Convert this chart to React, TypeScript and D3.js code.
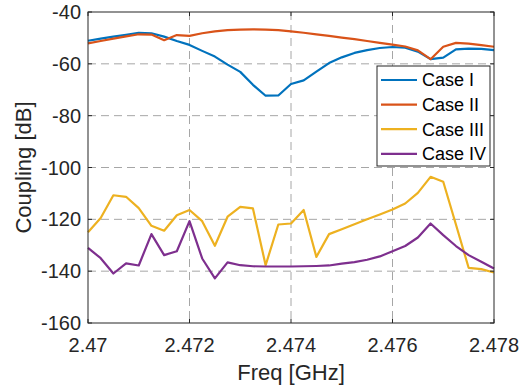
import React from "react";
import * as d3 from "d3";

const WIDTH = 528;
const HEIGHT = 390;
const M = { left: 88, right: 34, top: 12, bottom: 67 };

// frequency samples, GHz (0.25 MHz step)
const freq = d3.range(0, 33).map((i) => +(2.47 + i * 0.00025).toFixed(5));

const caseI = [
  -51.1, -50.3, -49.5, -48.8, -48.0, -48.2, -49.5, -51.2, -52.7, -55.0, -57.2,
  -60.3, -63.1, -68.1, -72.3, -72.2, -67.8, -66.4, -63.0, -59.7, -57.5, -55.8,
  -54.7, -53.9, -53.5, -53.8, -55.3, -58.2, -57.6, -54.4, -54.1, -54.2, -54.7,
];
const caseII = [
  -52.1, -51.2, -50.3, -49.4, -48.6, -48.7, -50.9, -48.9, -49.2, -48.2, -47.5,
  -47.0, -46.8, -46.7, -46.8, -47.0, -47.5, -48.0, -48.6, -49.2, -49.9, -50.5,
  -51.2, -51.9, -52.6, -53.3, -54.8, -58.2, -53.4, -51.9, -52.2, -52.8, -53.4,
];
const caseIII = [
  -125.0, -119.5, -110.7, -111.3, -115.7, -122.5, -124.4, -118.4, -116.4,
  -120.7, -130.2, -119.0, -115.2, -115.8, -137.7, -122.0, -121.6, -116.4,
  -134.5, -125.7, -123.8, -121.9, -120.0, -118.1, -116.2, -113.9, -109.8,
  -103.6, -105.5, -122.0, -138.7, -139.2, -140.5,
];
const caseIV = [
  -131.0, -135.0, -140.9, -137.0, -137.8, -125.7, -133.8, -132.3, -120.7,
  -135.1, -142.8, -136.6, -137.7, -138.1, -138.2, -138.2, -138.2, -138.1,
  -138.0, -137.8, -137.1, -136.5, -135.6, -134.3, -132.3, -130.3, -127.0,
  -121.6, -126.1, -130.3, -133.8, -136.4, -139.0,
];

const seriesNames = ["Case I", "Case II", "Case III", "Case IV"];
const seriesColors = ["#0072BD", "#D95319", "#EDB120", "#7E2F8E"];
const seriesValues = [caseI, caseII, caseIII, caseIV];

const xTicks = [2.47, 2.472, 2.474, 2.476, 2.478];
const yTicks = [-160, -140, -120, -100, -80, -60, -40];

const FONT = "Arial, 'Liberation Sans', Helvetica, sans-serif";
const AXIS = "#262626";

export default function App() {
  const x = d3
    .scaleLinear()
    .domain([2.47, 2.478])
    .range([M.left, WIDTH - M.right]);
  const y = d3
    .scaleLinear()
    .domain([-160, -40])
    .range([HEIGHT - M.bottom, M.top]);

  const line = d3
    .line<number>()
    .x((_, i) => x(freq[i]))
    .y((d) => y(d));

  const [x0, x1] = x.range();
  const [y0, y1] = y.range();

  // legend placement
  const lg = { x: 377, y: 66, w: 113, h: 100, row: 24.6 };

  return (
    <svg
      width={WIDTH}
      height={HEIGHT}
      style={{ position: "absolute", left: 0, top: 0, background: "#fff" }}
      fontFamily={FONT}
    >
      {/* grid */}
      <g stroke="#a6a6a6" strokeDasharray="8,5" strokeWidth={1}>
        {xTicks.slice(1, -1).map((t) => (
          <line key={"gx" + t} x1={x(t)} x2={x(t)} y1={y1} y2={y0} />
        ))}
        {yTicks.slice(1, -1).map((t) => (
          <line key={"gy" + t} x1={x0} x2={x1} y1={y(t)} y2={y(t)} />
        ))}
      </g>

      {/* series */}
      <g fill="none" strokeWidth={2.2} strokeLinejoin="round">
        {seriesValues.map((vals, k) => (
          <path key={k} d={line(vals) || ""} stroke={seriesColors[k]} />
        ))}
      </g>

      {/* axes box */}
      <rect
        x={x0}
        y={y1}
        width={x1 - x0}
        height={y0 - y1}
        fill="none"
        stroke={AXIS}
        strokeWidth={1}
      />
      <g stroke={AXIS} strokeWidth={1}>
        {xTicks.map((t) => (
          <g key={"tx" + t}>
            <line x1={x(t)} x2={x(t)} y1={y0} y2={y0 - 4} />
            <line x1={x(t)} x2={x(t)} y1={y1} y2={y1 + 4} />
          </g>
        ))}
        {yTicks.map((t) => (
          <g key={"ty" + t}>
            <line x1={x0} x2={x0 + 4} y1={y(t)} y2={y(t)} />
            <line x1={x1} x2={x1 - 4} y1={y(t)} y2={y(t)} />
          </g>
        ))}
      </g>

      {/* tick labels */}
      <g fill={AXIS} fontSize={20}>
        {xTicks.map((t) => (
          <text key={"lx" + t} x={x(t)} y={y0 + 29} textAnchor="middle">
            {d3.format("")(t)}
          </text>
        ))}
        {yTicks.map((t) => (
          <text
            key={"ly" + t}
            x={x0 - 7}
            y={y(t)}
            dy="0.35em"
            textAnchor="end"
          >
            {t}
          </text>
        ))}
      </g>

      {/* axis titles */}
      <text
        x={(x0 + x1) / 2}
        y={380}
        textAnchor="middle"
        fontSize={22}
        fill={AXIS}
      >
        Freq [GHz]
      </text>
      <text
        transform={`translate(31,${(y0 + y1) / 2}) rotate(-90)`}
        textAnchor="middle"
        fontSize={22}
        fill={AXIS}
      >
        Coupling [dB]
      </text>

      {/* legend */}
      <g>
        <rect
          x={lg.x}
          y={lg.y}
          width={lg.w}
          height={lg.h}
          fill="#fff"
          stroke={AXIS}
          strokeWidth={1}
        />
        {seriesNames.map((name, k) => {
          const cy = lg.y + 14 + k * lg.row;
          return (
            <g key={name}>
              <line
                x1={lg.x + 4}
                x2={lg.x + 40}
                y1={cy}
                y2={cy}
                stroke={seriesColors[k]}
                strokeWidth={2.2}
              />
              <text x={lg.x + 45} y={cy} dy="0.35em" fontSize={18} fill="#000">
                {name}
              </text>
            </g>
          );
        })}
      </g>
    </svg>
  );
}
